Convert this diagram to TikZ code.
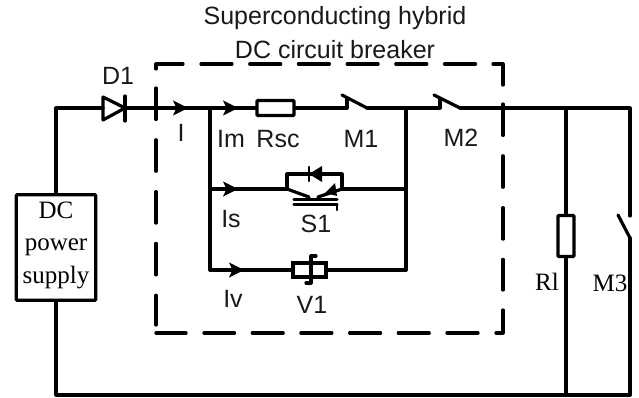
\documentclass[tikz,border=0pt]{standalone}
\usepackage{fontspec}
\setmainfont{Liberation Sans}
\newfontfamily\serifface{Liberation Serif}
\tikzset{
 wire/.style={line width=3.2pt,line cap=round,line join=round},
 thinwire/.style={line width=2.4pt,line cap=round,line join=round},
 lab/.style={font=\fontsize{25}{28}\selectfont,inner sep=0pt,text=black!90},
 slab/.style={font=\serifface\fontsize{25}{28}\selectfont,inner sep=0pt},
 res/.style={draw,line width=3.2pt,rounded corners=0.8pt,fill=white,inner sep=0pt,minimum width=37pt,minimum height=15pt},
 resv/.style={res,minimum width=16pt,minimum height=41pt},
 dashA/.style={wire,dash pattern=on 31pt off 17.7pt},
 dashB/.style={wire,dash pattern=on 31.5pt off 20.3pt},
 flow/.style={fill=black,draw=none}
}
\newcommand{\flowarrow}[2]{\fill[flow] (#1,#2-7.5) -- (#1+15,#2) -- (#1,#2+7.5) -- (#1+3.5,#2) -- cycle;}
\begin{document}
\begin{tikzpicture}[x=1pt,y=-1pt]
\useasboundingbox (0,0) rectangle (639,398);
% junction coordinates
\coordinate (psT) at (56,108);
\coordinate (psB) at (56,395);
\coordinate (dA) at (103,108);
\coordinate (dK) at (125,108);
\coordinate (J1) at (210,108);
\coordinate (J2) at (210,189);
\coordinate (J3) at (210,270);
\coordinate (K1) at (406,108);
\coordinate (K2) at (406,189);
\coordinate (K3) at (406,270);
\coordinate (m1a) at (347,108);
\coordinate (m1b) at (367,108);
\coordinate (m2a) at (440,108);
\coordinate (m2b) at (460,108);
\coordinate (Rt) at (566,108);
\coordinate (Rb) at (566,395);
\coordinate (Tr) at (630,108);
\coordinate (Br) at (630,395);
\coordinate (m3a) at (630,216);
\coordinate (m3b) at (630,238);
\coordinate (sL) at (287,189);
\coordinate (sR) at (342,189);
% dashed box, side by side
\draw[wire] (156,69) -- (156,64) -- (183,64);
\draw[dashA] (201,64) -- (476,64);
\draw[wire] (493,64) -- (503,64) -- (503,85);
\draw[dashB] (503,104) -- (503,290);
\draw[wire] (503,310) -- (503,333) -- (496,333);
\draw[dashA] (478,333) -- (204,333);
\draw[wire] (186,333) -- (156,333);
\draw[dashB] (156,88) -- (156,325);
% supply
\node[draw,line width=3.2pt,rounded corners=0.8pt,minimum width=79.5pt,minimum height=105.5pt,inner sep=0pt,fill=white] (ps) at (56,247.5) {};
\node[align=center,inner sep=0pt,font=\serifface\fontsize{25}{32.5}\selectfont] (pslab) at (56,245) {DC\\power\\supply};
\draw[wire] (ps.north) -- (psT) -- (dA);
\draw[wire] (ps.south) -- (psB) -- (Rb) -- (Br);
% diode D1
\draw[wire] (dK) -- (m1a |- dK);
\draw[wire] (103,97) -- (125,108) -- (103,120) -- cycle;
\draw[wire] (125,96) -- (125,121);
% main branch
\node[res] (rsc) at (275.5,108) {};
\draw[wire] (J1) -- (rsc.west);
\draw[wire] (rsc.east) -- (m1a) -- ++(0,-9);
\draw[wire] (342,95) -- (m1b);
\draw[wire] (m1b) -- (K1) -- (K2) -- (K3);
\draw[wire] (K1) -- (m2a) -- ++(0,-9);
\draw[wire] (434,95) -- (m2b);
\draw[wire] (m2b) -- (Tr) -- (m3a);
\draw[wire] (m3b) -- (Br);
\draw[wire] (618,215) -- (m3b);
\draw[wire] (J1) -- (J2) -- (J3);
% load resistor
\node[resv] (rl) at (566,236) {};
\draw[wire] (Rt) -- (rl.north);
\draw[wire] (rl.south) -- (Rb);
% S1
\draw[wire] (J2) -- (sL);
\draw[wire] (sR) -- (K2);
\draw[wire] (sL) -- (287,174) -- (342,174) -- (sR);
\fill (322,166) -- (322,182) -- (309,174) -- cycle;
\draw[thinwire] (309,167) -- (309,181);
\draw[wire] (sL) -- (309,197);
\draw[wire] (sR) -- (318,197);
\fill (335,183) -- (337,196) -- (325,193) -- cycle;
\draw[wire] (294,199.5) -- (337,199.5);
\draw[wire] (294,204.5) -- (337,204.5);
\draw[thinwire] (337,204.5) -- (337,210);
% V1
\node[draw,line width=3.2pt,minimum width=33pt,minimum height=14pt,inner sep=0pt] (v1) at (309.5,270) {};
\draw[wire] (J3) -- (v1.west);
\draw[wire] (v1.east) -- (K3);
\draw[wire] (316,256) -- (311,256) -- (311,283) -- (306,283);
% flow arrows
\flowarrow{173}{108}
\flowarrow{223}{108}
\flowarrow{223}{189}
\flowarrow{229}{270}
% labels
\node[lab] (t1) at (335,18) {Superconducting hybrid};
\node[lab] (t2) at (335,50) {DC circuit breaker};
\node[lab] (d1) at (118,76) {D1};
\node[lab] (li) at (181,133) {I};
\node[lab] (lim) at (231,139) {Im};
\node[lab] (lrsc) at (278,139) {Rsc};
\node[lab] (lm1) at (361,139) {M1};
\node[lab] (lm2) at (461,138) {M2};
\node[lab] (lis) at (231,219) {Is};
\node[lab] (ls1) at (316,224) {S1};
\node[lab] (liv) at (233,299) {Iv};
\node[lab] (lv1) at (312,305) {V1};
\node[slab] (lrl) at (547,282) {Rl};
\node[slab] (lm3) at (610,283) {M3};
\end{tikzpicture}
\end{document}
